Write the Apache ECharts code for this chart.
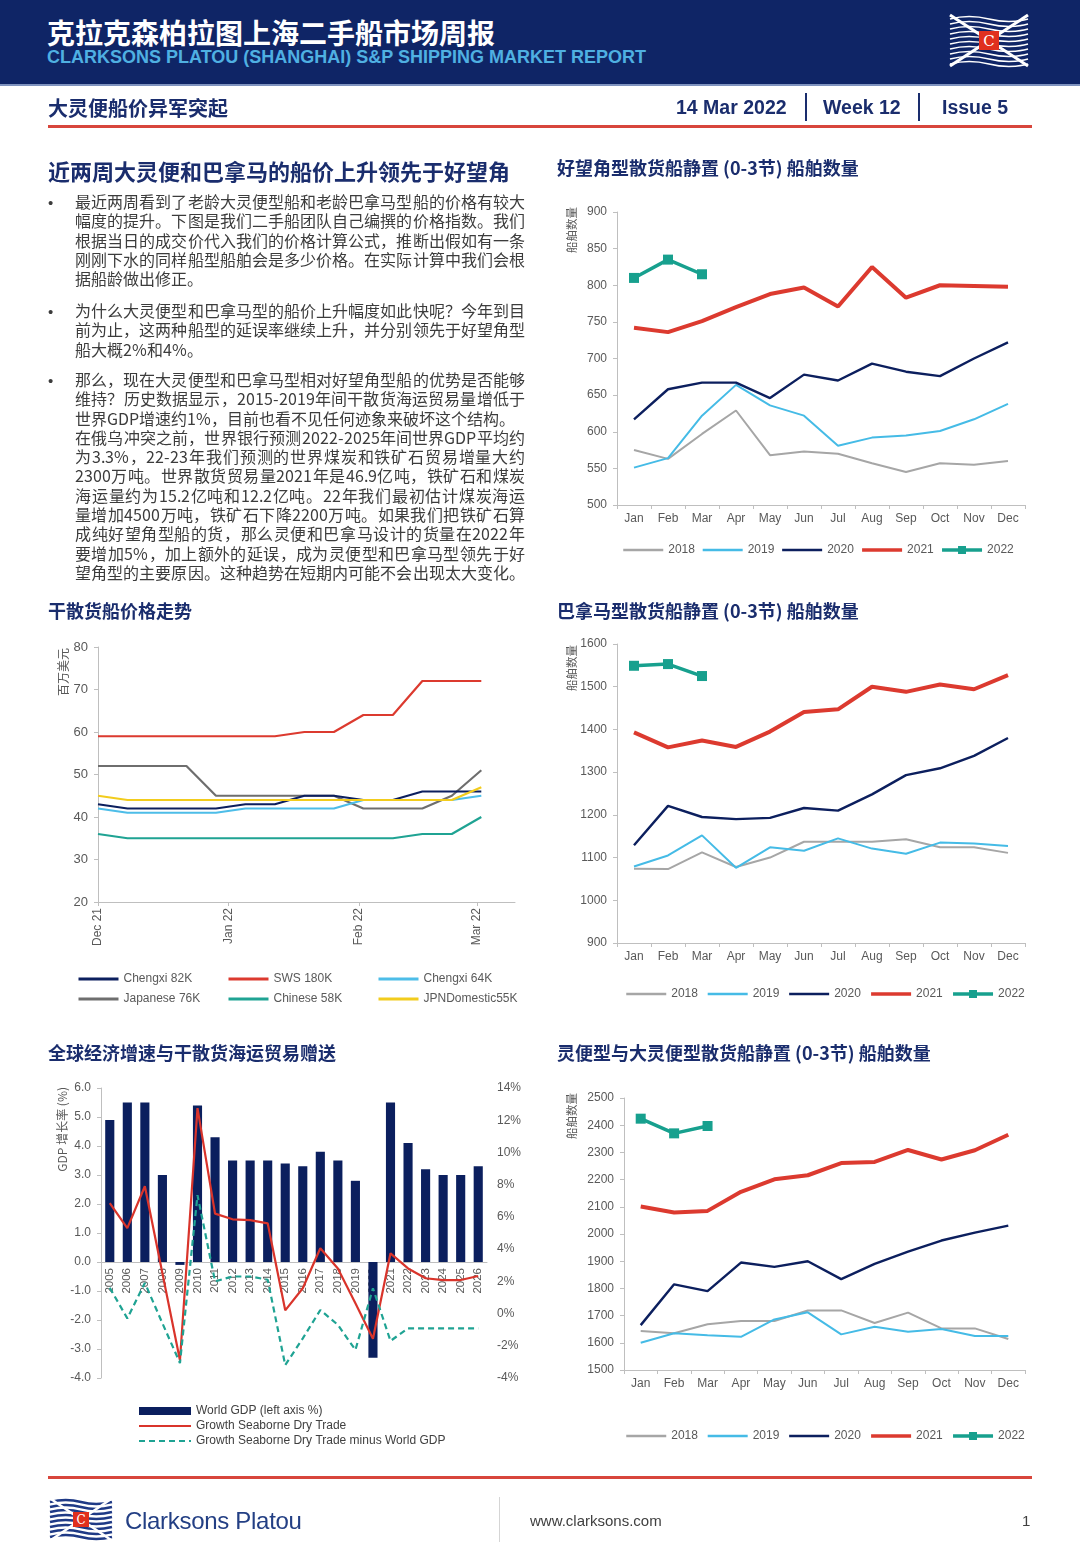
<!DOCTYPE html>
<html><head><meta charset="utf-8">
<script src="https://cdn.jsdelivr.net/npm/echarts@6/dist/echarts.min.js"></script>
<style>
@font-face{font-family:"BodyCJK";src:local("Noto Sans CJK SC"),local("Noto Sans CJK SC Regular"),local("NotoSansCJKsc-Regular");font-weight:400;ascent-override:92%;descent-override:24%;line-gap-override:0%;}
@font-face{font-family:"BodyCJK";src:local("Noto Sans CJK SC Bold"),local("NotoSansCJKsc-Bold");font-weight:700;ascent-override:92%;descent-override:24%;line-gap-override:0%;}
html,body{margin:0;padding:0;background:#fff;}
#page{position:relative;width:1080px;height:1559px;overflow:hidden;font-family:"Noto Sans CJK SC","Noto Sans",sans-serif;}
#chart{position:absolute;left:0;top:0;width:1080px;height:1559px;}
.t{position:absolute;white-space:nowrap;}
.head{position:absolute;left:0;top:0;width:1080px;height:84px;background:#0f2566;border-bottom:2px solid #7f93bf;}
.h1{left:47px;top:14px;font-size:28px;line-height:36px;font-weight:700;color:#fff;}
.h2{left:47px;top:46px;font-size:18px;line-height:22px;font-weight:700;color:#4fb0e2;font-family:"Liberation Sans",Arial,sans-serif;}
.sub{font-size:20px;line-height:26px;font-weight:700;color:#1a2d6d;}
.dt{font-size:19.5px;line-height:26px;font-weight:700;color:#1a2d6d;font-family:"Liberation Sans",Arial,sans-serif;top:94px;}
.vsep{position:absolute;width:2px;background:#1a2d6d;top:93px;height:28px;}
.rule{position:absolute;left:48px;width:984px;height:3px;background:#d8463c;}
.sec{font-size:18px;line-height:24px;font-weight:700;color:#1a2d6d;}
.para{position:absolute;left:75px;width:450px;font-size:16px;line-height:19.3px;color:#3c3c3c;font-family:"BodyCJK","Noto Sans CJK SC",sans-serif;}
.para div{text-align:justify;text-align-last:justify;white-space:nowrap;height:19.3px;}
.para div.nj{text-align-last:left;}
.bul{position:absolute;left:48px;font-size:15px;line-height:19.3px;color:#3c3c3c;font-family:"Liberation Sans",Arial,sans-serif;}
</style></head>
<body>
<div id="page">
<div id="chart"></div>
<div class="head"></div>
<div class="t h1">克拉克森柏拉图上海二手船市场周报</div>
<div class="t h2">CLARKSONS PLATOU (SHANGHAI) S&amp;P SHIPPING MARKET REPORT</div>
<svg style="position:absolute;left:946px;top:13px" width="86" height="55" viewBox="0 0 86 55">
  <g stroke="#ffffff" stroke-width="1.6" fill="none">
    <path d="M4 6 Q23 1 43 6 T82 6"/><path d="M4 11 Q23 6 43 11 T82 11"/><path d="M4 16 Q23 11 43 16 T82 16"/>
    <path d="M4 21 Q23 16 43 21 T82 21"/><path d="M4 26 Q23 21 43 26 T82 26"/><path d="M4 31 Q23 26 43 31 T82 31"/>
    <path d="M4 36 Q23 31 43 36 T82 36"/><path d="M4 41 Q23 36 43 41 T82 41"/><path d="M4 46 Q23 41 43 46 T82 46"/>
    <path d="M4 51 Q23 46 43 51 T82 51"/>
  </g>
  <g stroke="#ffffff" stroke-width="3"><line x1="4" y1="2" x2="82" y2="53"/><line x1="82" y1="2" x2="4" y2="53"/></g>
  <rect x="33" y="18" width="20" height="19" fill="#e0301e"/>
  <text x="43" y="33" font-family="DejaVu Serif,serif" font-size="15" fill="#fff" text-anchor="middle">C</text>
</svg>

<div class="t sub" style="left:48px;top:95px">大灵便船价异军突起</div>
<div class="t dt" style="left:676px">14 Mar 2022</div>
<div class="vsep" style="left:805px"></div>
<div class="t dt" style="left:823px">Week 12</div>
<div class="vsep" style="left:918px"></div>
<div class="t dt" style="left:942px">Issue 5</div>
<div class="rule" style="top:125px"></div>

<div class="t" style="left:48px;top:156px;font-size:22px;line-height:28px;font-weight:700;color:#1a2d6d">近两周大灵便和巴拿马的船价上升领先于好望角</div>

<div class="bul" style="top:193px">•</div>
<div class="para" style="top:193px">
<div>最近两周看到了老龄大灵便型船和老龄巴拿马型船的价格有较大</div>
<div>幅度的提升。下图是我们二手船团队自己编撰的价格指数。我们</div>
<div>根据当日的成交价代入我们的价格计算公式，推断出假如有一条</div>
<div>刚刚下水的同样船型船舶会是多少价格。在实际计算中我们会根</div>
<div class="nj">据船龄做出修正。</div>
</div>
<div class="bul" style="top:302px">•</div>
<div class="para" style="top:302px">
<div>为什么大灵便型和巴拿马型的船价上升幅度如此快呢？今年到目</div>
<div>前为止，这两种船型的延误率继续上升，并分别领先于好望角型</div>
<div class="nj">船大概2%和4%。</div>
</div>
<div class="bul" style="top:371px">•</div>
<div class="para" style="top:371px">
<div>那么，现在大灵便型和巴拿马型相对好望角型船的优势是否能够</div>
<div>维持？历史数据显示，2015-2019年间干散货海运贸易量增低于</div>
<div class="nj">世界GDP增速约1%，目前也看不见任何迹象来破坏这个结构。</div>
<div>在俄乌冲突之前，世界银行预测2022-2025年间世界GDP平均约</div>
<div>为3.3%，22-23年我们预测的世界煤炭和铁矿石贸易增量大约</div>
<div>2300万吨。世界散货贸易量2021年是46.9亿吨，铁矿石和煤炭</div>
<div>海运量约为15.2亿吨和12.2亿吨。22年我们最初估计煤炭海运</div>
<div>量增加4500万吨，铁矿石下降2200万吨。如果我们把铁矿石算</div>
<div>成纯好望角型船的货，那么灵便和巴拿马设计的货量在2022年</div>
<div>要增加5%，加上额外的延误，成为灵便型和巴拿马型领先于好</div>
<div>望角型的主要原因。这种趋势在短期内可能不会出现太大变化。</div>
</div>

<div class="t sec" style="left:557px;top:155px">好望角型散货船静置 (0-3节) 船舶数量</div>
<div class="t sec" style="left:48px;top:598px">干散货船价格走势</div>
<div class="t sec" style="left:557px;top:598px">巴拿马型散货船静置 (0-3节) 船舶数量</div>
<div class="t sec" style="left:48px;top:1040px">全球经济增速与干散货海运贸易赠送</div>
<div class="t sec" style="left:557px;top:1040px">灵便型与大灵便型散货船静置 (0-3节) 船舶数量</div>

<div class="rule" style="top:1476px"></div>
<svg style="position:absolute;left:48px;top:1497px" width="66" height="45" viewBox="0 0 66 45">
  <g stroke="#1f3a86" stroke-width="2.4" fill="none">
    <path d="M2 5 Q18 1 33 5 T64 5"/><path d="M2 10 Q18 6 33 10 T64 10"/><path d="M2 15 Q18 11 33 15 T64 15"/>
    <path d="M2 20 Q18 16 33 20 T64 20"/><path d="M2 25 Q18 21 33 25 T64 25"/><path d="M2 30 Q18 26 33 30 T64 30"/>
    <path d="M2 35 Q18 31 33 35 T64 35"/><path d="M2 40 Q18 36 33 40 T64 40"/>
  </g>
  <g stroke="#ffffff" stroke-width="2.5"><line x1="3" y1="2" x2="63" y2="43"/><line x1="63" y1="2" x2="3" y2="43"/></g>
  <rect x="25" y="15" width="16" height="15" fill="#e0301e"/>
  <text x="33" y="27" font-family="DejaVu Serif,serif" font-size="12" fill="#fff" text-anchor="middle">C</text>
</svg>
<div class="t" style="left:125px;top:1506px;font-size:24px;line-height:30px;color:#233f84;font-family:'Liberation Sans',Arial,sans-serif;letter-spacing:-0.3px">Clarksons Platou</div>
<div style="position:absolute;left:499px;top:1497px;width:1px;height:45px;background:#d5d5d5"></div>
<div class="t" style="left:530px;top:1511px;font-size:15px;line-height:20px;color:#404040;font-family:'Liberation Sans',Arial,sans-serif">www.clarksons.com</div>
<div class="t" style="left:1022px;top:1511px;font-size:15px;line-height:20px;color:#404040;font-family:'Liberation Sans',Arial,sans-serif">1</div>
</div>

<script>
// ---------- DATA ----------
const months = ['Jan','Feb','Mar','Apr','May','Jun','Jul','Aug','Sep','Oct','Nov','Dec'];
const years = ['2018','2019','2020','2021','2022'];

// Capesize idle (0-3 knots)
const cape2018 = [575,563,597,629,568,573,570,557,545,557,555,560];
const cape2019 = [551,564,622,664,636,622,581,592,595,601,617,638];
const cape2020 = [617,658,667,667,646,678,670,693,682,676,700,722];
const cape2021 = [742,736,751,770,788,797,771,825,783,800,799,798];
const cape2022 = [810,835,815];

// Panamax idle
const pmx2018 = [1074,1073,1112,1078,1100,1137,1137,1137,1143,1124,1124,1111];
const pmx2019 = [1079,1105,1152,1076,1124,1116,1145,1121,1109,1135,1133,1127];
const pmx2020 = [1129,1221,1195,1190,1193,1216,1210,1248,1293,1309,1338,1380];
const pmx2021 = [1393,1358,1374,1359,1395,1441,1447,1500,1488,1505,1494,1527];
const pmx2022 = [1549,1553,1525];

// Handysize & Supramax idle
const hdy2018 = [1643,1635,1668,1680,1680,1719,1719,1673,1711,1653,1653,1614];
const hdy2019 = [1600,1635,1628,1622,1686,1712,1631,1659,1641,1651,1625,1625];
const hdy2020 = [1665,1815,1790,1895,1879,1900,1834,1890,1935,1976,2005,2031];
const hdy2021 = [2101,2079,2085,2155,2201,2216,2261,2265,2309,2274,2308,2365];
const hdy2022 = [2424,2370,2397];

// Dry bulk newbuild prices (weekly, $m)
const priceDates = ['2021-12-01','2021-12-08','2021-12-15','2021-12-22','2021-12-29','2022-01-05','2022-01-12',
  '2022-01-19','2022-01-26','2022-02-02','2022-02-09','2022-02-16','2022-02-23','2022-03-02'];
const chengxi82 = [43,42,42,42,42,43,43,45,45,44,44,46,46,46];
const sws180 = [59,59,59,59,59,59,59,60,60,64,64,72,72,72];
const chengxi64 = [42,41,41,41,41,42,42,42,42,44,44,44,44,45];
const japanese76 = [52,52,52,52,45,45,45,45,45,42,42,42,45,51];
const chinese58 = [36,35,35,35,35,35,35,35,35,35,35,36,36,40];
const jpnDomestic55 = [45,44,44,44,44,44,44,44,44,44,44,44,44,47];
const priceTickDates = ['2021-12-01','2022-01-01','2022-02-01','2022-03-01'];
const priceTickLabels = ['Dec 21','Jan 22','Feb 22','Mar 22'];
const priceAxisEnd = '2022-03-10';

// World GDP vs seaborne dry trade
const gdpYears = ['2005','2006','2007','2008','2009','2010','2011','2012','2013','2014','2015','2016','2017','2018','2019','2020','2021','2022','2023','2024','2025','2026'];
const worldGdp = [4.9,5.5,5.5,3.0,-0.1,5.4,4.3,3.5,3.5,3.5,3.4,3.3,3.8,3.5,2.8,-3.3,5.5,4.1,3.2,3.0,3.0,3.3];
const dryTrade = [6.85,5.3,7.9,2.5,-2.9,12.75,6.2,5.85,5.8,5.6,0.2,1.57,4.05,2.8,0.64,-1.56,3.74,2.8,2.19,2.08,2.08,2.33];
const tradeMinusGdp = [1.6,-0.3,1.9,-0.6,-3.07,7.35,2.0,2.3,2.3,2.1,-3.2,-1.54,0.22,-0.7,-2.26,1.57,-1.7,-0.92,-0.92,-0.92,-0.92,-0.92];

// ---------- STYLE ----------
const F = '"Liberation Sans", Arial, sans-serif';
const CJK = '"Noto Sans CJK SC", sans-serif';
const AX = '#595959';
const AXL = '#bfbfbf';
const yearColor = {'2018':'#a6a6a6','2019':'#45bbe6','2020':'#0c1f5e','2021':'#dc3a2f','2022':'#17a08e'};
const yearWidth = {'2018':2,'2019':2,'2020':2.4,'2021':4,'2022':3.5};
const yearLegendWidth = {'2018':2.5,'2019':2.5,'2020':2.5,'2021':3.5,'2022':3.5};

function dayNum(s){ const p = s.split('-').map(Number); return Date.UTC(p[0], p[1]-1, p[2]) / 86400000; }
const day0 = dayNum(priceDates[0]);
function dayOff(s){ return dayNum(s) - day0; }

const grids = [
  {left:617, top:212, width:408, height:293},
  {left:98, top:647, width:417, height:255},
  {left:617, top:644, width:408, height:299},
  {left:101, top:1088, width:386, height:290},
  {left:624, top:1098, width:401, height:272}
];
const gdpMin = -4, gdpMax = 6;

function monthAxis(gi){
  return {type:'category', gridIndex:gi, data:months, boundaryGap:true,
    axisLine:{lineStyle:{color:AXL}}, axisTick:{show:true,length:4,lineStyle:{color:AXL}},
    axisLabel:{color:AX, fontSize:12, fontFamily:F, margin:8}};
}
function valAxis(gi, min, max, interval, extra){
  return Object.assign({type:'value', gridIndex:gi, min, max, interval, splitLine:{show:false},
    axisLine:{show:true, lineStyle:{color:AXL}}, axisTick:{show:true,length:4,lineStyle:{color:AXL}},
    axisLabel:{color:AX, fontSize:12, fontFamily:F, margin:10, formatter:v=>String(v)}}, extra||{});
}
function yearSeries(gi, yi, name, data){
  const is22 = name === '2022';
  return {type:'line', name, xAxisIndex:gi, yAxisIndex:yi, data,
    symbol: is22 ? 'rect' : 'none', symbolSize: is22 ? 10 : 0, showSymbol: is22,
    lineStyle:{color:yearColor[name], width:yearWidth[name]},
    itemStyle:{color:yearColor[name]}, color:yearColor[name]};
}
function yearLegend(left, top, gap){
  return {left, top, padding:0, itemWidth:40, itemHeight:10, itemGap:gap,
    textStyle:{color:AX, fontSize:12, fontFamily:F},
    data: years.map(y => y === '2022'
      ? {name:y, lineStyle:{width:yearLegendWidth[y]}}
      : {name:y, itemStyle:{opacity:0}, lineStyle:{width:yearLegendWidth[y]}})};
}
function priceSeries(name, values, color){
  return {type:'line', name, xAxisIndex:1, yAxisIndex:1, symbol:'none', showSymbol:false,
    data: priceDates.map((d,i)=>[dayOff(d), values[i]]),
    lineStyle:{color, width:2.2}, itemStyle:{color}, color};
}
function colLegend(left, names){
  return {left, top:973, padding:0, orient:'vertical', itemWidth:40, itemHeight:10, itemGap:8,
    textStyle:{color:AX, fontSize:12, fontFamily:F},
    data: names.map(n => ({name:n, itemStyle:{opacity:0}, lineStyle:{width:3}}))};
}
function axisName(x, y, text, size){
  return {type:'text', x, y, rotation:Math.PI/2,
    style:{text, fontSize:size, fill:AX, fontFamily:CJK, align:'right', verticalAlign:'middle'}};
}

const tickVals = priceTickDates.map(dayOff);

const option = {
  animation:false,
  grid: grids.map(g => Object.assign({containLabel:false}, g)),
  xAxis: [
    monthAxis(0),
    {type:'value', gridIndex:1, min:0, max:dayOff(priceAxisEnd), splitLine:{show:false},
      axisLine:{lineStyle:{color:AXL}},
      axisTick:{show:true, length:4, lineStyle:{color:AXL}, customValues:tickVals},
      axisLabel:{color:AX, fontSize:12, fontFamily:F, rotate:90, margin:6, customValues:tickVals,
        formatter:function(v){ const i = tickVals.indexOf(v); return i >= 0 ? priceTickLabels[i] : ''; }}},
    monthAxis(2),
    {type:'category', gridIndex:3, data:gdpYears, boundaryGap:true, position:'bottom',
      // axis line sits at the zero value of the left axis
      offset: -grids[3].height * (0 - gdpMin) / (gdpMax - gdpMin),
      axisLine:{onZero:false, lineStyle:{color:AXL}}, axisTick:{show:false},
      axisLabel:{color:AX, fontSize:11.5, fontFamily:F, rotate:90, margin:6}},
    monthAxis(4)
  ],
  yAxis: [
    valAxis(0, 500, 900, 50),
    valAxis(1, 20, 80, 10, {axisLabel:{color:AX, fontSize:13, fontFamily:F, margin:10}}),
    valAxis(2, 900, 1600, 100),
    valAxis(3, gdpMin, gdpMax, 1, {axisLabel:{color:AX, fontSize:12, fontFamily:F, margin:10, formatter:v=>v.toFixed(1)}}),
    {type:'value', gridIndex:3, position:'right', min:-4, max:14, interval:2, splitLine:{show:false},
      axisLine:{show:false}, axisTick:{show:false},
      axisLabel:{color:AX, fontSize:12, fontFamily:F, margin:10, formatter:'{value}%'}},
    valAxis(4, 1500, 2500, 100)
  ],
  legend: [
    yearLegend(622, 544, 6.5),
    colLegend(77, ['Chengxi 82K','Japanese 76K']),
    colLegend(227, ['SWS 180K','Chinese 58K']),
    colLegend(377, ['Chengxi 64K','JPNDomestic55K']),
    yearLegend(625, 988, 8.5),
    {left:138, top:1405, padding:0, orient:'vertical', itemWidth:52, itemHeight:8, itemGap:3,
      textStyle:{color:'#404040', fontSize:12, fontFamily:F},
      data:[{name:'World GDP (left axis %)', icon:'rect'},
        {name:'Growth Seaborne Dry Trade', itemStyle:{opacity:0}, lineStyle:{width:2}},
        {name:'Growth Seaborne Dry Trade minus World GDP', itemStyle:{opacity:0}, lineStyle:{width:2}}]},
    yearLegend(625, 1430, 8.5)
  ],
  graphic: [
    axisName(572, 207, '船舶数量', 11.5),
    axisName(63, 648, '百万美元', 12),
    axisName(572, 645, '船舶数量', 11.5),
    axisName(62, 1087, 'GDP 增长率 (%)', 12),
    axisName(572, 1093, '船舶数量', 11.5)
  ],
  series: [
    yearSeries(0,0,'2018',cape2018), yearSeries(0,0,'2019',cape2019), yearSeries(0,0,'2020',cape2020),
    yearSeries(0,0,'2021',cape2021), yearSeries(0,0,'2022',cape2022),

    priceSeries('SWS 180K', sws180, '#dc3a2f'),
    priceSeries('Japanese 76K', japanese76, '#6e6e6e'),
    priceSeries('Chengxi 82K', chengxi82, '#0c1f5e'),
    priceSeries('Chengxi 64K', chengxi64, '#4dbde8'),
    priceSeries('JPNDomestic55K', jpnDomestic55, '#f2cc1d'),
    priceSeries('Chinese 58K', chinese58, '#1fa393'),

    yearSeries(2,2,'2018',pmx2018), yearSeries(2,2,'2019',pmx2019), yearSeries(2,2,'2020',pmx2020),
    yearSeries(2,2,'2021',pmx2021), yearSeries(2,2,'2022',pmx2022),

    {type:'bar', name:'World GDP (left axis %)', xAxisIndex:3, yAxisIndex:3, data:worldGdp, barWidth:'52%',
      itemStyle:{color:'#0b1f5e'}, color:'#0b1f5e'},
    {type:'line', name:'Growth Seaborne Dry Trade', xAxisIndex:3, yAxisIndex:4, data:dryTrade,
      symbol:'none', showSymbol:false, lineStyle:{color:'#d9342b', width:2.2}, itemStyle:{color:'#d9342b'}, color:'#d9342b'},
    {type:'line', name:'Growth Seaborne Dry Trade minus World GDP', xAxisIndex:3, yAxisIndex:4, data:tradeMinusGdp,
      symbol:'none', showSymbol:false, lineStyle:{color:'#1fa393', width:2.2, type:[6,4]}, itemStyle:{color:'#1fa393'}, color:'#1fa393'},

    yearSeries(4,5,'2018',hdy2018), yearSeries(4,5,'2019',hdy2019), yearSeries(4,5,'2020',hdy2020),
    yearSeries(4,5,'2021',hdy2021), yearSeries(4,5,'2022',hdy2022)
  ]
};

const chart = echarts.init(document.getElementById('chart'));
chart.setOption(option);
</script>
</body></html>
